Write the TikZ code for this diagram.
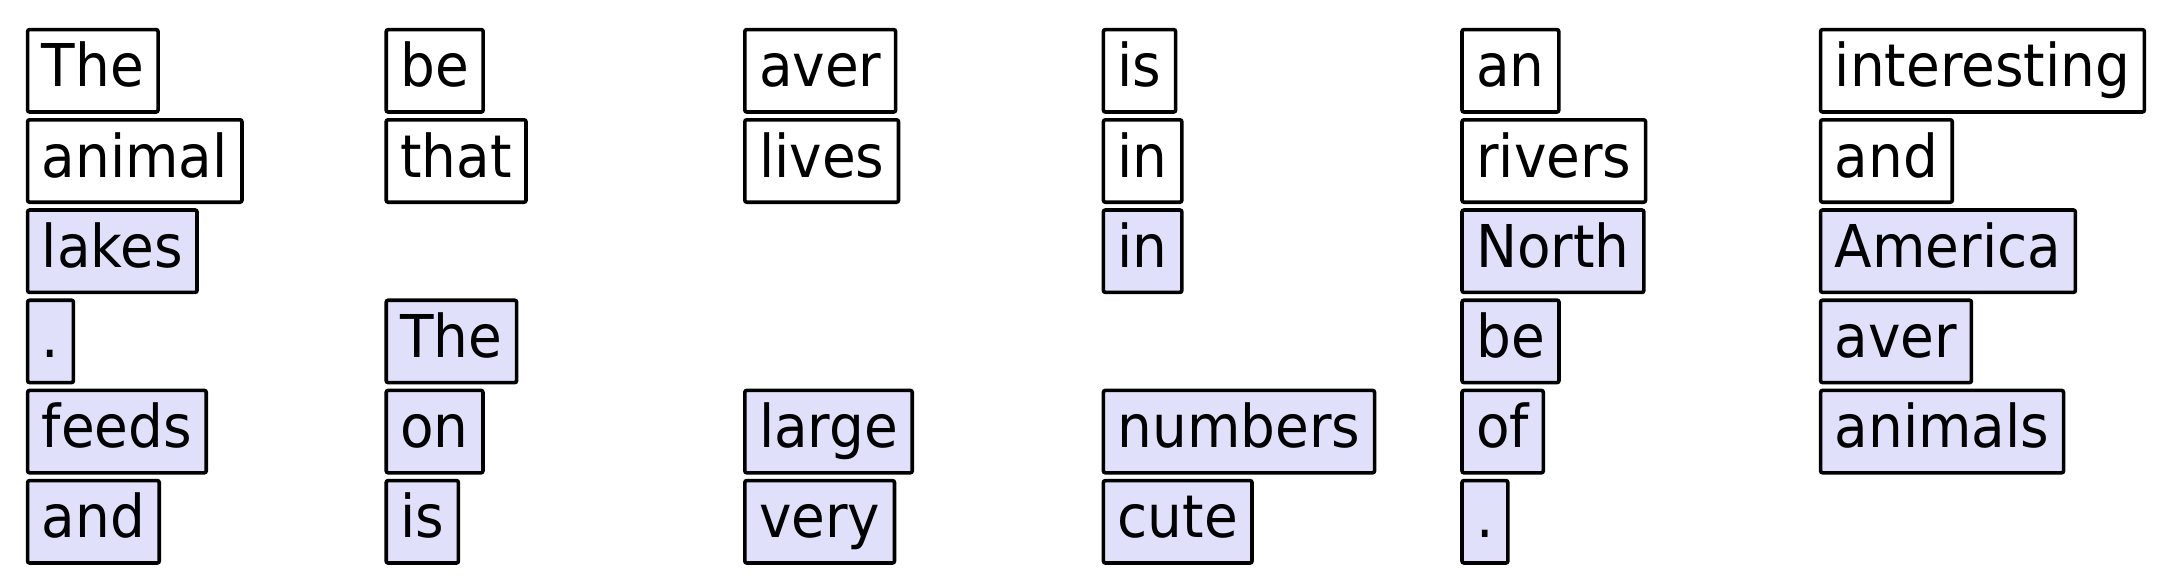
\documentclass[tikz,border=0pt]{standalone}
\usepackage{fontspec}
\setmainfont[FakeStretch=0.93]{DejaVu Sans}

\definecolor{hlfill}{RGB}{224,224,250}

\begin{document}
\begin{tikzpicture}[
    x=1pt, y=1pt,
    every node/.style={
      draw, line width=1.8pt, rounded corners=1pt,
      anchor=north west, fill=white,
      inner xsep=7.1pt, inner ysep=6.85pt,
      text height=21.75pt, text depth=5.75pt,
      font=\fontsize{29.5pt}{32pt}\selectfont
    },
    hl/.style={
      fill=hlfill
    }
    ]
  \useasboundingbox (0,0) rectangle (1083,-289);
  % first column
  \node (a1) at (12.9,-13.9) {The};
  \node (a2) at (12.9,-59) {animal};
  \node[hl] (a3) at (12.9,-104.1) {lakes};
  \node[hl] (a4) at (12.9,-149.2) {.};
  \node[hl] (a5) at (12.9,-194.3) {feeds};
  \node[hl] (a6) at (12.9,-239.4) {and};
  % second column
  \node (b1) at (192.2,-13.9) {be};
  \node (b2) at (192.2,-59) {that};
  \node[hl] (b4) at (192.2,-149.2) {The};
  \node[hl] (b5) at (192.2,-194.3) {on};
  \node[hl] (b6) at (192.2,-239.4) {is};
  % third column
  \node (c1) at (371.5,-13.9) {aver};
  \node (c2) at (371.5,-59) {lives};
  \node[hl] (c5) at (371.5,-194.3) {large};
  \node[hl] (c6) at (371.5,-239.4) {very};
  % fourth column
  \node (d1) at (550.8,-13.9) {is};
  \node (d2) at (550.8,-59) {in};
  \node[hl] (d3) at (550.8,-104.1) {in};
  \node[hl] (d5) at (550.8,-194.3) {numbers};
  \node[hl] (d6) at (550.8,-239.4) {cute};
  % fifth column
  \node (e1) at (730.1,-13.9) {an};
  \node (e2) at (730.1,-59) {rivers};
  \node[hl] (e3) at (730.1,-104.1) {North};
  \node[hl] (e4) at (730.1,-149.2) {be};
  \node[hl] (e5) at (730.1,-194.3) {of};
  \node[hl] (e6) at (730.1,-239.4) {.};
  % sixth column
  \node (f1) at (909.4,-13.9) {interesting};
  \node (f2) at (909.4,-59) {and};
  \node[hl] (f3) at (909.4,-104.1) {America};
  \node[hl] (f4) at (909.4,-149.2) {aver};
  \node[hl] (f5) at (909.4,-194.3) {animals};
\end{tikzpicture}
\end{document}
